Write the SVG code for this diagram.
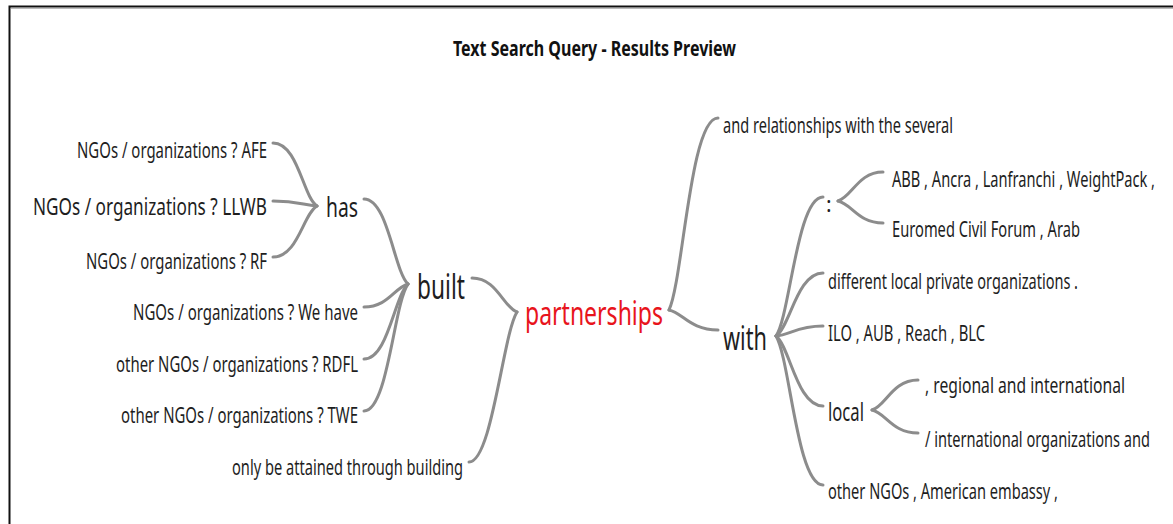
<svg xmlns="http://www.w3.org/2000/svg" width="1173" height="524" viewBox="0 0 1173 524">
  <style>
    .t { font-family: "Noto Sans", "Open Sans", "DejaVu Sans", sans-serif; fill: #1e1e1e; }
    .s { font-size: 21px; }
    .title { font-size: 22px; font-weight: bold; fill: #111; }
    .key { fill: #e8141c; }
    .edge { fill: none; stroke: #8c8c8c; stroke-width: 3; stroke-linecap: round; }
  </style>
  <rect x="0" y="0" width="1173" height="524" fill="#fff"/>
  <!-- frame -->
  <path d="M9.5 524 V6.5 H1173" fill="none" stroke="#111" stroke-width="2"/>
  <path d="M11 8.5 H1173" fill="none" stroke="#bbb" stroke-width="1"/>

  <text class="t title" x="453" y="56" textLength="283" lengthAdjust="spacingAndGlyphs">Text Search Query - Results Preview</text>

  <!-- connectors: each runs from a junction point out to a word -->
  <g id="connectors" class="edge">
    <!-- has -->
    <path d="M317 206 C303 197 298 143 273 143"/>
    <path d="M317 206 C303 205 298 201 273 201"/>
    <path d="M317 206 C303 214 298 257 273 257"/>
    <!-- built -->
    <path d="M408 284 C394 271 388 199 364 199"/>
    <path d="M408 284 C394 288 388 307 364 307"/>
    <path d="M408 284 C394 297 388 359 364 359"/>
    <path d="M408 284 C394 303 388 411 364 411"/>
    <!-- partnerships, left -->
    <path d="M517 312 C503 307 497 278 472 278"/>
    <path d="M517 312 C503 334 492 462 469 462"/>
    <!-- partnerships, right -->
    <path d="M669 310 C683 281 690 118 718 118"/>
    <path d="M669 310 C683 313 690 330 718 330"/>
    <!-- with -->
    <path d="M776 336 C790 316 797 197 823 197"/>
    <path d="M776 336 C790 327 797 273 823 273"/>
    <path d="M776 336 C790 335 797 326 823 326"/>
    <path d="M776 336 C790 347 797 406 823 406"/>
    <path d="M776 336 C790 359 797 485 823 485"/>
    <!-- : -->
    <path d="M838 201 C852 197 858 172 883 172"/>
    <path d="M838 201 C852 204 858 223 883 223"/>
    <!-- local -->
    <path d="M872 410 C886 406 892 380 918 380"/>
    <path d="M872 410 C886 413 892 433 918 433"/>
  </g>

  <g id="n-afe"><text class="t s" x="77" y="158" textLength="190" lengthAdjust="spacingAndGlyphs">NGOs / organizations ? AFE</text></g>
  <g id="n-llwb"><text class="t" style="font-size:24px" x="33" y="215" textLength="234" lengthAdjust="spacingAndGlyphs">NGOs / organizations ? LLWB</text></g>
  <g id="n-rf"><text class="t s" x="86" y="269" textLength="181" lengthAdjust="spacingAndGlyphs">NGOs / organizations ? RF</text></g>
  <g id="n-has"><text class="t" style="font-size:28px" x="326" y="217" textLength="32" lengthAdjust="spacingAndGlyphs">has</text></g>
  <g id="n-wehave"><text class="t s" x="133" y="320" textLength="225" lengthAdjust="spacingAndGlyphs">NGOs / organizations ? We have</text></g>
  <g id="n-rdfl"><text class="t s" x="116" y="372" textLength="242" lengthAdjust="spacingAndGlyphs">other NGOs / organizations ? RDFL</text></g>
  <g id="n-twe"><text class="t s" x="121" y="423" textLength="237" lengthAdjust="spacingAndGlyphs">other NGOs / organizations ? TWE</text></g>
  <g id="n-built"><text class="t" style="font-size:35px" x="417" y="299" textLength="48" lengthAdjust="spacingAndGlyphs">built</text></g>
  <g id="n-attained"><text class="t s" x="232" y="475" textLength="231" lengthAdjust="spacingAndGlyphs">only be attained through building</text></g>

  <g id="n-partnerships"><text class="t key" style="font-size:33px" x="525" y="325" textLength="138" lengthAdjust="spacingAndGlyphs">partnerships</text></g>

  <g id="n-relationships"><text class="t s" x="723" y="133" textLength="230" lengthAdjust="spacingAndGlyphs">and relationships with the several</text></g>
  <g id="n-with"><text class="t" style="font-size:33px" x="723" y="350" textLength="44" lengthAdjust="spacingAndGlyphs">with</text></g>
  <g id="n-colon"><text class="t s" x="826" y="212">:</text></g>
  <g id="n-abb"><text class="t s" x="892" y="187" textLength="263" lengthAdjust="spacingAndGlyphs">ABB , Ancra , Lanfranchi , WeightPack ,</text></g>
  <g id="n-euromed"><text class="t s" x="892" y="237" textLength="188" lengthAdjust="spacingAndGlyphs">Euromed Civil Forum , Arab</text></g>
  <g id="n-different"><text class="t s" x="828" y="289" textLength="250" lengthAdjust="spacingAndGlyphs">different local private organizations .</text></g>
  <g id="n-ilo"><text class="t s" x="828" y="341" textLength="157" lengthAdjust="spacingAndGlyphs">ILO , AUB , Reach , BLC</text></g>
  <g id="n-local"><text class="t" style="font-size:25px" x="828" y="421" textLength="36" lengthAdjust="spacingAndGlyphs">local</text></g>
  <g id="n-regional"><text class="t s" x="925" y="393" textLength="200" lengthAdjust="spacingAndGlyphs">, regional and international</text></g>
  <g id="n-international"><text class="t s" x="925" y="447" textLength="225" lengthAdjust="spacingAndGlyphs">/ international organizations and</text></g>
  <g id="n-othersngo"><text class="t s" x="828" y="499" textLength="230" lengthAdjust="spacingAndGlyphs">other NGOs , American embassy ,</text></g>
</svg>
